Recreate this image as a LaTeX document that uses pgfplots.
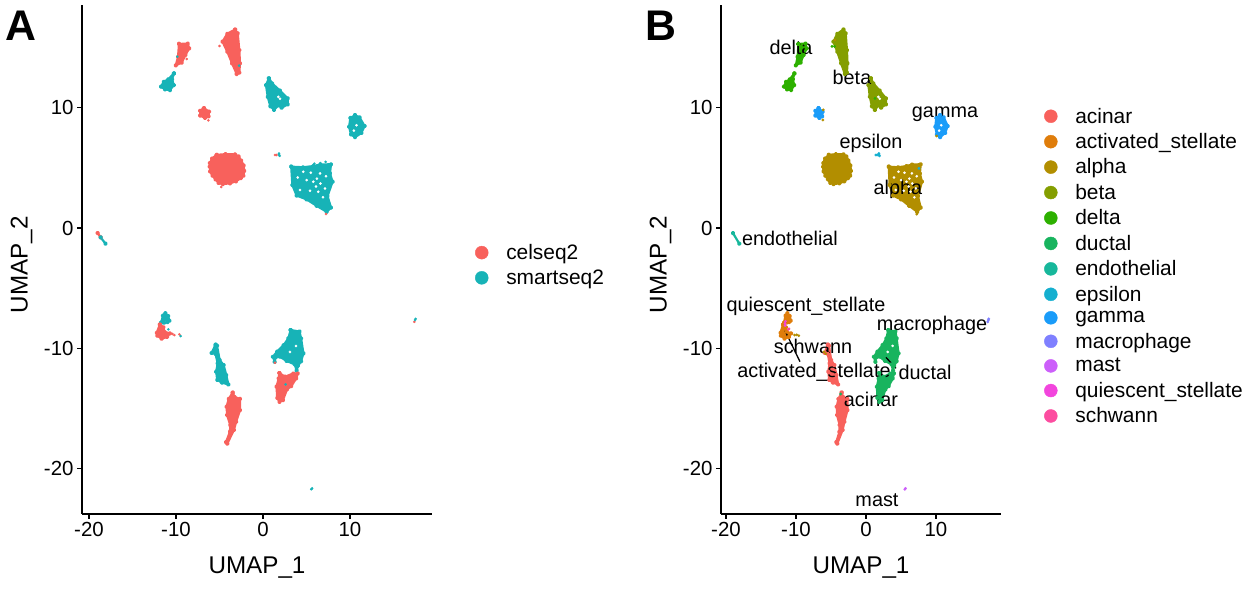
\documentclass[border=0pt]{standalone}
\usepackage{pgfplots}
\usepackage{pgfplotstable}
\usepackage{fontspec}
\setmainfont{Liberation Sans}
\pgfplotsset{compat=1.18}
\definecolor{cel}{HTML}{F8615C}
\definecolor{smart}{HTML}{17B3B7}
\definecolor{cAcinar}{HTML}{F8615C}
\definecolor{cAct}{HTML}{DF7D0B}
\definecolor{cAlpha}{HTML}{B28E00}
\definecolor{cBeta}{HTML}{849E00}
\definecolor{cDelta}{HTML}{2DB000}
\definecolor{cDuctal}{HTML}{18B45E}
\definecolor{cEndo}{HTML}{17B79B}
\definecolor{cEps}{HTML}{15AFCF}
\definecolor{cGamma}{HTML}{1A9CF9}
\definecolor{cMacro}{HTML}{7F80FF}
\definecolor{cMast}{HTML}{CC5FFA}
\definecolor{cQui}{HTML}{F245DD}
\definecolor{cSchw}{HTML}{FC4DA0}
% cluster outlines, in UMAP coordinates
\pgfplotstableread{
-9.65 15.30
-8.65 15.33
-8.48 14.93
-8.92 14.38
-9.34 13.75
-10.02 13.52
-9.76 14.24
-9.65 15.30
}\tDeltaA
\pgfplotstableread{
-10.23 12.85
-10.45 12.36
-10.25 11.88
-10.69 11.47
-11.26 11.52
-11.72 11.75
-11.40 12.16
-10.88 12.36
-10.23 12.85
}\tDeltaB
\pgfplotstableread{
-3.21 16.50
-2.90 16.18
-2.72 14.79
-2.64 13.69
-2.72 12.92
-3.02 12.80
-3.55 13.69
-4.10 14.66
-4.65 15.49
-4.10 16.15
-3.21 16.50
}\tBetaA
\pgfplotstableread{
0.69 12.45
1.05 12.02
1.96 11.42
2.85 10.78
2.85 10.28
2.15 10.00
1.77 10.20
1.27 9.82
0.85 10.12
0.55 10.91
0.35 11.88
0.69 12.45
}\tBetaB
\pgfplotstableread{
-6.78 9.97
-6.20 9.67
-6.25 9.28
-6.66 9.15
-7.22 9.35
-7.22 9.75
-6.78 9.97
}\tGammaA
\pgfplotstableread{
10.58 9.38
11.10 9.20
11.68 8.48
11.30 7.90
10.58 7.55
10.12 7.78
9.90 8.42
10.05 9.15
10.58 9.38
}\tGammaB
\pgfplotstableread{
-5.32 6.08
-4.30 6.14
-3.21 6.12
-2.80 5.95
-2.50 5.60
-2.22 5.20
-2.15 4.75
-2.25 4.35
-2.55 4.15
-3.10 3.88
-3.79 3.72
-4.63 3.65
-5.10 3.75
-5.45 4.05
-5.80 4.35
-6.07 4.70
-6.12 5.10
-6.10 5.40
-5.85 5.78
-5.32 6.08
}\tAlphaA
\pgfplotstableread{
3.25 5.10
4.60 5.05
5.79 5.15
6.60 5.28
7.82 5.30
7.70 4.54
8.00 3.85
7.42 2.65
7.82 1.70
7.32 1.35
6.17 1.85
5.02 2.38
3.87 2.70
3.38 3.57
3.25 5.10
}\tAlphaB
\pgfplotstableread{
-11.70 -7.87
-11.50 -7.28
-11.22 -7.08
-10.90 -7.32
-10.76 -7.70
-10.98 -7.82
-11.14 -7.51
-11.33 -7.59
-11.37 -7.87
-11.70 -7.87
}\tStelA
\pgfplotstableread{
-11.85 -8.02
-11.45 -8.25
-11.33 -8.62
-10.70 -8.76
-11.02 -9.05
-11.64 -9.20
-12.15 -8.95
-12.20 -8.70
-11.85 -8.02
}\tStelB
\pgfplotstableread{
-5.45 -9.70
-5.28 -9.78
-4.98 -10.97
-4.52 -11.39
-4.22 -12.22
-3.98 -13.00
-4.72 -12.85
-5.25 -12.62
-5.38 -11.94
-5.20 -11.25
-5.45 -10.47
-5.90 -10.38
-5.45 -9.70
}\tAcinA
\pgfplotstableread{
-3.48 -13.68
-3.25 -14.05
-2.64 -14.20
-2.64 -15.13
-3.08 -16.10
-3.34 -16.79
-4.10 -17.92
-4.25 -17.80
-3.79 -16.93
-3.76 -16.38
-4.12 -15.55
-4.18 -14.85
-3.93 -14.20
-3.48 -13.68
}\tAcinB
\pgfplotstableread{
3.18 -8.48
4.20 -8.60
4.38 -9.17
4.65 -10.42
4.38 -11.08
4.02 -11.45
3.87 -11.85
3.65 -11.33
2.72 -11.05
1.96 -10.70
1.40 -10.78
1.35 -11.12
1.14 -10.70
1.62 -10.28
2.38 -9.73
2.92 -9.17
3.18 -8.48
}\tDuctA
\pgfplotstableread{
1.88 -12.05
2.53 -12.36
3.49 -12.09
4.00 -12.09
3.82 -12.50
3.25 -13.15
2.76 -13.42
2.30 -14.30
1.90 -14.45
1.64 -14.12
1.56 -13.19
1.81 -12.50
1.88 -12.05
}\tDuctB
\pgfplotstableread{
-19.00 -0.42
-18.65 -0.78
}\tEndoA
\pgfplotstableread{
-18.65 -0.78
-18.10 -1.30
}\tEndoB
\pgfplotstableread{
-19.00 -0.42
-18.10 -1.30
}\tEndoAll
% loose points
\pgfplotstableread{
-5.00 15.13
-6.28 8.95
-4.79 3.41
7.25 1.16
1.38 6.07
1.55 6.07
-10.19 -8.90
-9.61 -8.84
-10.40 -8.80
1.38 -11.20
17.40 -7.80
-8.75 14.05
}\pCel
\pgfplotstableread{
1.84 6.09
1.92 6.00
1.84 6.20
-10.88 -8.42
-9.46 -8.98
17.48 -7.65
17.55 -7.55
5.64 -21.64
5.55 -21.72
6.60 5.40
7.20 5.50
5.90 5.35
}\pSmart
\pgfplotstableread{
6.36 3.02
5.79 3.85
7.13 3.29
5.02 3.99
4.26 3.16
6.56 4.54
4.64 4.68
6.90 2.55
5.40 3.10
6.10 3.45
6.60 3.70
7.25 4.30
4.00 4.20
5.50 4.60
6.20 4.10
1.77 10.91
1.96 10.75
10.75 8.55
10.45 8.10
3.10 -10.30
3.80 -9.80
}\pHoles
\pgfplotstableread{
-9.84 14.24
-2.75 13.50
2.60 -13.00
}\pSmartIn
\newcommand{\poly}[2]{\addplot[fill=#2,draw=#2,line width=2.2bp,line join=round,line cap=round,mark=*,mark size=1.2bp,mark options={fill=#2,draw=#2},forget plot] table {#1};}
\newcommand{\pts}[2]{\addplot[only marks,mark=*,mark size=1.1bp,mark options={fill=#2,draw=#2},forget plot] table {#1};}
\newcommand{\sz}[1]{\fontsize{#1}{#1}\selectfont}
\pgfplotsset{umap/.style={
  scale only axis,
  height=509bp,
  ymin=-23.77, ymax=18.54,
  axis x line*=bottom, axis y line*=left,
  axis line style={-,line width=1.4bp,black},
  tick style={black,line width=1.4bp},
  tick align=outside, major tick length=5bp,
  xtick={-20,-10,0,10}, xticklabels={-20,-10,0,10},
  ytick={-20,-10,0,10}, yticklabels={-20,-10,0,10},
  tick label style={font=\sz{20.5}},
  xlabel={UMAP\_1}, ylabel={UMAP\_2},
  label style={font=\sz{24.3}},
  xlabel style={at={(0.5,0)},yshift=-39bp},
  ylabel style={at={(0,0.49)},yshift=46bp},
  legend cell align=left,
  clip=false,
  legend style={draw=none,fill=none,font=\sz{21},row sep=4.8bp,inner sep=0pt,
    /tikz/every odd column/.append style={column sep=16bp}},
}}
\begin{document}
\begin{tikzpicture}[x=1bp,y=1bp]
\useasboundingbox (0,0) rectangle (1257,592);
\node[anchor=base west,inner sep=0pt,font=\sz{43}\bfseries] at (5,551) {A};
\node[anchor=base west,inner sep=0pt,font=\sz{43}\bfseries] at (645,551) {B};
\begin{axis}[umap, at={(82bp,78bp)}, anchor=south west, width=350bp,
  xmin=-20.8, xmax=19.43,
  legend style={at={(1.123,0.489)},anchor=west}]
\addlegendimage{only marks,mark=*,mark size=6.5bp,cel}
\addlegendentry{celseq2}
\addlegendimage{only marks,mark=*,mark size=6.5bp,smart}
\addlegendentry{smartseq2}
\poly{\tDeltaA}{cel}
\poly{\tDeltaB}{smart}
\poly{\tBetaA}{cel}
\poly{\tBetaB}{smart}
\poly{\tGammaA}{cel}
\poly{\tGammaB}{smart}
\poly{\tAlphaA}{cel}
\poly{\tAlphaB}{smart}
\poly{\tStelA}{smart}
\poly{\tStelB}{cel}
\poly{\tAcinA}{smart}
\poly{\tAcinB}{cel}
\poly{\tDuctA}{smart}
\poly{\tDuctB}{cel}
\poly{\tEndoA}{cel}
\poly{\tEndoB}{smart}
\pts{\pHoles}{white}
\pts{\pCel}{cel}
\pts{\pSmart}{smart}
\pts{\pSmartIn}{smart}
\end{axis}
\begin{axis}[umap, at={(721bp,78bp)}, anchor=south west, width=280bp,
  xmin=-20.71, xmax=19.29,
  legend style={at={(1.154,0.487)},anchor=west}]
\addlegendimage{only marks,mark=*,mark size=6.5bp,cAcinar}
\addlegendentry{acinar}
\addlegendimage{only marks,mark=*,mark size=6.5bp,cAct}
\addlegendentry{activated\_stellate}
\addlegendimage{only marks,mark=*,mark size=6.5bp,cAlpha}
\addlegendentry{alpha}
\addlegendimage{only marks,mark=*,mark size=6.5bp,cBeta}
\addlegendentry{beta}
\addlegendimage{only marks,mark=*,mark size=6.5bp,cDelta}
\addlegendentry{delta}
\addlegendimage{only marks,mark=*,mark size=6.5bp,cDuctal}
\addlegendentry{ductal}
\addlegendimage{only marks,mark=*,mark size=6.5bp,cEndo}
\addlegendentry{endothelial}
\addlegendimage{only marks,mark=*,mark size=6.5bp,cEps}
\addlegendentry{epsilon}
\addlegendimage{only marks,mark=*,mark size=6.5bp,cGamma}
\addlegendentry{gamma}
\addlegendimage{only marks,mark=*,mark size=6.5bp,cMacro}
\addlegendentry{macrophage}
\addlegendimage{only marks,mark=*,mark size=6.5bp,cMast}
\addlegendentry{mast}
\addlegendimage{only marks,mark=*,mark size=6.5bp,cQui}
\addlegendentry{quiescent\_stellate}
\addlegendimage{only marks,mark=*,mark size=6.5bp,cSchw}
\addlegendentry{schwann}
\poly{\tDeltaA}{cDelta}
\poly{\tDeltaB}{cDelta}
\poly{\tBetaA}{cBeta}
\poly{\tBetaB}{cBeta}
\poly{\tGammaA}{cGamma}
\poly{\tGammaB}{cGamma}
\poly{\tAlphaA}{cAlpha}
\poly{\tAlphaB}{cAlpha}
\poly{\tStelA}{cAct}
\poly{\tStelB}{cAct}
\poly{\tAcinA}{cAcinar}
\poly{\tAcinB}{cAcinar}
\poly{\tDuctA}{cDuctal}
\poly{\tDuctB}{cDuctal}
\poly{\tEndoAll}{cEndo}
\pts{\pHoles}{white}
\addplot[only marks,mark=*,mark size=1.2bp,cEps,forget plot] coordinates {(1.84,6.09)(1.92,6.00)(1.84,6.20)(1.40,6.07)(1.60,6.07)(7.57,4.96)};
\addplot[only marks,mark=*,mark size=1.2bp,cMacro,forget plot] coordinates {(17.48,-7.65)(17.55,-7.55)(17.40,-7.80)};
\addplot[only marks,mark=*,mark size=1.2bp,cMast,forget plot] coordinates {(5.64,-21.64)(5.55,-21.72)};
\addplot[only marks,mark=*,mark size=1.2bp,cQui,forget plot] coordinates {(-11.57,-7.92)(-11.50,-7.75)(-11.55,-8.10)};
\addplot[only marks,mark=*,mark size=1.2bp,cSchw,forget plot] coordinates {(-11.10,-8.42)(-11.00,-8.38)};
\addplot[only marks,mark=*,mark size=1.2bp,cAlpha,forget plot] coordinates {(-10.20,-8.90)(-9.90,-8.88)(-9.60,-8.95)(-6.00,-10.30)(-5.75,-10.45)(10.10,7.65)(-6.10,9.82)(-6.16,8.98)(-4.43,15.63)(7.25,1.16)};
\addplot[only marks,mark=*,mark size=1.2bp,cDelta,forget plot] coordinates {(-4.86,15.10)(-4.50,15.10)(1.29,10.78)};
\addplot[only marks,mark=*,mark size=1.2bp,cDuctal,forget plot] coordinates {(-3.62,-13.80)};
\addplot[black,line width=1.3bp,forget plot] coordinates {(-11.57,-8.53)(-9.43,-11.11)};
\addplot[black,line width=1.3bp,forget plot] coordinates {(2.85,-10.75)(4.28,-11.66)};
\begin{scope}[every node/.style={font=\sz{19.9},inner sep=0pt}]
\node at (axis cs:-10.71,15.05) {delta};
\node at (axis cs:-2.00,12.55) {beta};
\node at (axis cs:11.29,9.45) {gamma};
\node at (axis cs:0.71,7.07) {epsilon};
\node at (axis cs:4.57,3.24) {alpha};
\node at (axis cs:-10.86,-0.83) {endothelial};
\node at (axis cs:-8.57,-6.48) {quiescent\_stellate};
\node at (axis cs:9.43,-8.06) {macrophage};
\node at (axis cs:-7.57,-9.81) {schwann};
\node at (axis cs:-7.43,-11.97) {activated\_stellate};
\node at (axis cs:8.43,-11.97) {ductal};
\node at (axis cs:0.71,-14.21) {acinar};
\node at (axis cs:1.57,-22.60) {mast};
\end{scope}
\end{axis}
\end{tikzpicture}
\end{document}
